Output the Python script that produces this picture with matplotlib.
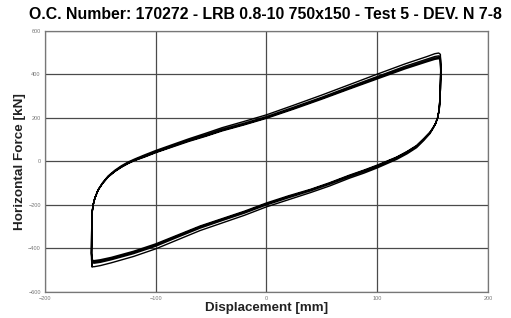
import matplotlib.pyplot as plt

# displacement points along the loading branch (left -> right) and the unloading branch (right -> left)
x_up = [-157.5, -158, -157.8, -157.3, -156.5, -155, -152, -148, -143, -137, -131, -125, -119, -110, -100,
        -85, -70, -55, -40, -20, 0, 25, 50, 75, 100, 125, 145, 152, 155.5, 157]
x_dn = [157, 157.3, 157, 156.5, 156, 154.5, 152.5, 150, 147.5, 142, 135.5, 127, 117.5, 100, 88,
        75, 57, 40, 20, 0, -20, -40, -60, -80, -100, -120, -140, -150, -155.5, -157.5]

# horizontal force per cycle [kN]
f_up_1 = [-484, -448, -305, -232, -201, -170, -130, -98, -67, -41, -20, -3, 11, 30, 50,
          77, 104, 129, 155, 184, 214, 259, 305, 353, 401, 448, 482, 495, 498, 492]
f_dn_1 = [492, 430, 335, 285, 241, 200, 171, 148, 127, 96, 63, 35, 9, -30, -54,
          -77, -113, -143, -176, -209, -248, -283, -318, -360, -402, -437, -466, -479, -484, -484]

f_up_2 = [-466, -430, -300, -230, -200, -170, -131, -100, -70, -45, -24, -7, 7, 25, 45,
          72, 98, 122, 148, 176, 206, 250, 295, 343, 390, 437, 470, 482, 485, 480]
f_dn_2 = [480, 420, 330, 283, 240, 200, 172, 150, 130, 100, 68, 41, 15, -24, -47,
          -70, -105, -135, -167, -200, -238, -272, -307, -348, -390, -424, -452, -464, -468, -466]

f_up_3 = [-458, -425, -298, -229, -199, -169, -131, -101, -71, -46, -26, -9, 5, 22, 42,
          69, 95, 118, 143, 171, 201, 245, 290, 337, 384, 430, 463, 475, 478, 474]
f_dn_3 = [474, 415, 327, 282, 239, 200, 173, 151, 132, 103, 71, 44, 18, -20, -43,
          -66, -101, -131, -162, -195, -233, -267, -301, -342, -384, -418, -446, -458, -462, -460]

f_up_4 = [-450, -420, -296, -228, -199, -169, -132, -102, -72, -47, -27, -10, 4, 20, 40,
          66, 92, 115, 140, 168, 198, 241, 286, 333, 379, 425, 458, 469, 472, 468]
f_dn_4 = [468, 410, 325, 281, 238, 200, 174, 152, 134, 105, 73, 46, 20, -17, -40,
          -63, -98, -128, -158, -191, -229, -263, -297, -338, -379, -413, -441, -452, -456, -454]

cycles = [(f_up_1, f_dn_1), (f_up_2, f_dn_2), (f_up_3, f_dn_3), (f_up_4, f_dn_4)]

xticks = [-200, -100, 0, 100, 200]
yticks = [-600, -400, -200, 0, 200, 400, 600]

plt.rcParams['font.family'] = ['Liberation Sans', 'DejaVu Sans']

fig = plt.figure(figsize=(5.11, 3.18), dpi=100)
ax = fig.add_axes([0.088, 0.082, 0.867, 0.821])

xs, fs = [], []
for f_up, f_dn in cycles:
    xs += x_up + x_dn
    fs += f_up + f_dn
ax.plot(xs, fs, color='black', linewidth=1.0)

ax.set_xlim(-200, 200)
ax.set_ylim(-600, 600)
ax.set_xticks(xticks)
ax.set_yticks(yticks)
ax.grid(True, color='#4a4a4a', linewidth=0.9)
ax.set_axisbelow(True)
ax.tick_params(length=0, labelsize=4, labelcolor='#777777', pad=3)
for s in ax.spines.values():
    s.set_color('#777777')
    s.set_linewidth(0.9)

ax.set_xlabel('Displacement [mm]', fontsize=9.6, fontweight='bold', color='#222222', labelpad=1)
ax.set_ylabel('Horizontal Force [kN]', fontsize=9.7, fontweight='bold', color='#222222')
ax.yaxis.set_label_coords(-0.042, 0.5)
fig.suptitle('O.C. Number: 170272 - LRB 0.8-10 750x150 - Test 5 - DEV. N 7-8',
             fontsize=11.4, fontweight='bold', x=0.52, y=0.978)

fig.savefig('out.png', dpi=100)
